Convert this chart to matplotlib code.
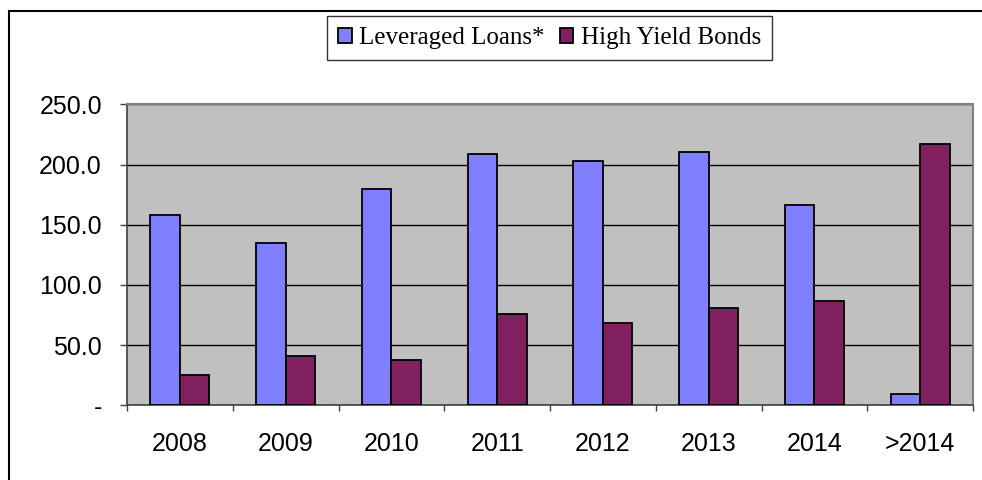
import matplotlib
matplotlib.use("Agg")
import matplotlib.pyplot as plt
from matplotlib.patches import Rectangle
import numpy as np

categories = ["2008", "2009", "2010", "2011", "2012", "2013", "2014", ">2014"]
leveraged_loans = [158.0, 135.0, 180.0, 209.0, 203.0, 210.0, 166.0, 9.0]
high_yield_bonds = [25.0, 41.0, 38.0, 76.0, 68.0, 81.0, 87.0, 217.0]
y_ticks = [0, 50, 100, 150, 200, 250]
y_tick_labels = ["-", "50.0", "100.0", "150.0", "200.0", "250.0"]

W, H = 982, 480
fig = plt.figure(figsize=(W / 100, H / 100), dpi=100)
fig.patch.set_facecolor("white")

# outer chart frame (open on right/bottom)
fig.add_artist(Rectangle((9 / W, -0.1), 1.2, (H - 11) / H + 0.1, transform=fig.transFigure,
                         fill=False, edgecolor="black", linewidth=1.5))

left, right, top, bottom = 127, 973, 104.3, 405.3
ax = fig.add_axes([left / W, 1 - bottom / H, (right - left) / W, (bottom - top) / H])
ax.set_facecolor("#C0C0C0")

x = np.arange(len(categories))
bw = 0.28
ax.bar(x - bw / 2, leveraged_loans, width=bw, color="#8080FF", edgecolor="black",
       linewidth=1.3, label="Leveraged Loans*", zorder=3)
ax.bar(x + bw / 2, high_yield_bonds, width=bw, color="#80205F", edgecolor="black",
       linewidth=1.3, label="High Yield Bonds", zorder=3)

ax.set_xlim(-0.5, len(categories) - 0.5)
ax.set_ylim(0, 250)
ax.set_yticks(y_ticks)
ax.set_yticklabels(y_tick_labels, fontsize=18, family="Liberation Sans")
ax.yaxis.grid(True, color="black", linewidth=1.0, zorder=1)
ax.set_axisbelow(True)

ax.set_xticks(np.arange(len(categories) + 1) - 0.5, minor=False)
ax.set_xticklabels([""] * (len(categories) + 1))
ax.set_xticks(x, minor=True)
ax.set_xticklabels(categories, minor=True, fontsize=18, family="Liberation Sans")
ax.tick_params(axis="x", which="major", length=4.5, color="#404040", width=1)
ax.tick_params(axis="x", which="minor", length=0, pad=19)
ax.tick_params(axis="y", length=5, color="#404040", width=1, pad=13)

for s in ["top", "right"]:
    ax.spines[s].set_color("#808080")
    ax.spines[s].set_linewidth(1.5)
for s in ["left", "bottom"]:
    ax.spines[s].set_color("#404040")
    ax.spines[s].set_linewidth(1.2)

leg = fig.legend(loc="center", bbox_to_anchor=(549.5 / W, 1 - 38 / H), ncol=2,
                 prop={"family": "Liberation Serif", "size": 18},
                 frameon=True, fancybox=False, shadow=False, edgecolor="black",
                 handlelength=0.55, handleheight=0.55, handletextpad=0.3,
                 columnspacing=0.6, borderpad=0.45, borderaxespad=0)
leg.get_frame().set_linewidth(1.0)

fig.savefig("out.png", dpi=100, facecolor="white")
